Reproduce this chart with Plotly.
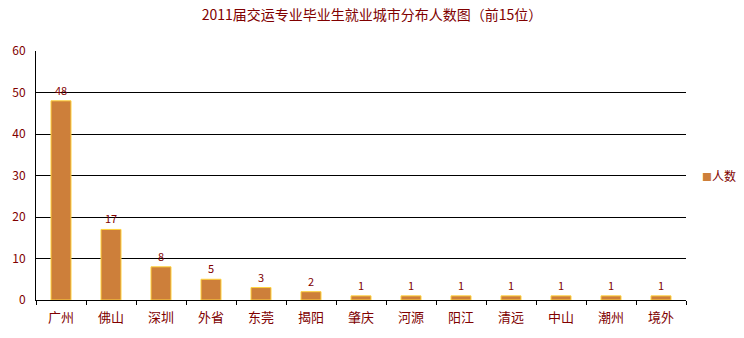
import plotly.graph_objects as go

categories = ["广州", "佛山", "深圳", "外省", "东莞", "揭阳", "肇庆", "河源", "阳江", "清远", "中山", "潮州", "境外"]
values = [48, 17, 8, 5, 3, 2, 1, 1, 1, 1, 1, 1, 1]
series_name = "人数"
title = "2011届交运专业毕业生就业城市分布人数图（前15位）"
y_ticks = [0, 10, 20, 30, 40, 50, 60]

font_family = "SimSun, 'Noto Sans CJK SC', sans-serif"
txt = "#800000"
bar_color = "#CD7F3A"

fig = go.Figure()
fig.add_trace(go.Bar(
    x=categories, y=values, name=series_name,
    marker=dict(color=bar_color, line=dict(color="#FFD23C", width=1)),
    text=[str(v) for v in values], textposition="outside", cliponaxis=False,
    textfont=dict(color=txt, size=11, family=font_family),
    showlegend=False,
))
fig.update_layout(
    width=744, height=338,
    margin=dict(l=36, r=58, t=51, b=38),
    paper_bgcolor="white", plot_bgcolor="white",
    title=dict(text=title, x=0.5, xanchor="center", y=0.955, yanchor="middle",
               font=dict(size=14, color=txt, family=font_family)),
    bargap=0.6,
    showlegend=False,
    font=dict(family=font_family, color=txt),
    annotations=[dict(
        xref="paper", yref="paper", x=1.0, xanchor="left", y=0.5, yanchor="middle",
        xshift=14, showarrow=False,
        text=f"<span style='color:{bar_color};font-size:10px'>■</span>{series_name}",
        font=dict(size=12, color=txt, family=font_family),
    )],
)
fig.update_xaxes(type="category", showline=True, linecolor="black", linewidth=1,
                 ticks="outside", tickson="boundaries", ticklen=4, tickcolor="black",
                 tickfont=dict(size=13, color=txt), showgrid=False, automargin=False,
                 ticklabelstandoff=5)
fig.update_yaxes(range=[0, 60], tickvals=y_ticks, showline=True, linecolor="black",
                 linewidth=1, showgrid=True, gridcolor="black", gridwidth=1,
                 zeroline=False, tickfont=dict(size=12, color=txt), ticks="",
                 ticklabelstandoff=7, automargin=False)
fig.write_html("out.html")
